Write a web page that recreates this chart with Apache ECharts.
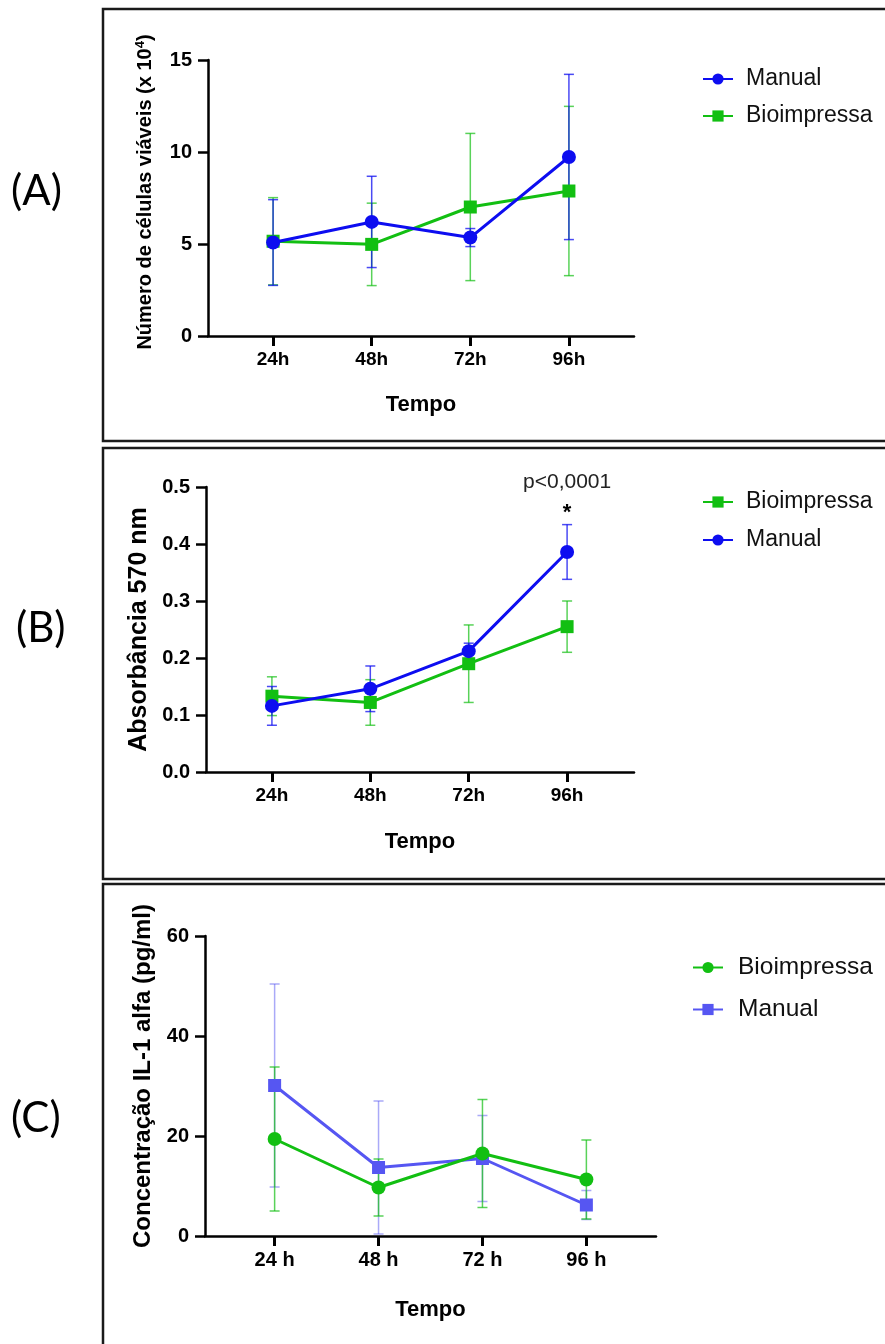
<!DOCTYPE html>
<html>
<head>
<meta charset="utf-8">
<script src="https://cdn.jsdelivr.net/npm/echarts@6/dist/echarts.min.js"></script>
<style>
html,body{margin:0;padding:0;background:#fff;}
#chart{width:885px;height:1344px;}
</style>
</head>
<body>
<div id="chart"></div>
<script>
// ---------- DATA ----------
const timesAB = ['24h', '48h', '72h', '96h'];
const timesC = ['24 h', '48 h', '72 h', '96 h'];

// Panel A: Número de células viáveis (x 10^4)
const manualA = [5.08, 6.2, 5.35, 9.73];
const manualAErr = [2.33, 2.48, 0.49, 4.49];
const bioA = [5.15, 4.98, 7.01, 7.88];
const bioAErr = [2.37, 2.24, 4.0, 4.6];

// Panel B: Absorbância 570 nm
const bioB = [0.133, 0.122, 0.190, 0.255];
const bioBErr = [0.034, 0.040, 0.068, 0.045];
const manualB = [0.116, 0.146, 0.212, 0.386];
const manualBErr = [0.034, 0.040, 0.014, 0.048];

// Panel C: Concentração IL-1 alfa (pg/ml)
const bioC = [19.4, 9.7, 16.5, 11.3];
const bioCErr = [14.4, 5.7, 10.8, 7.9];
const manualC = [30.1, 13.7, 15.5, 6.2];
const manualCErr = [20.3, 13.3, 8.6, 2.9];

const yTicksA = [0, 5, 10, 15];
const yTicksB = [0, 0.1, 0.2, 0.3, 0.4, 0.5];
const yTicksC = [0, 20, 40, 60];

// ---------- STYLE ----------
const BLUE = '#0d0df0';
const GREEN = '#12bf12';
const VIOLET = '#5656f2';
const FONT = 'Liberation Sans';

const chart = echarts.init(document.getElementById('chart'), null, {renderer: 'canvas'});

function pts(vals) { return vals.map((v, i) => [i, v]); }
function errData(vals, errs) { return vals.map((v, i) => [i, v - errs[i], v + errs[i]]); }

function errSeries(name, idx, vals, errs, color, opacity, width) {
  return {
    name: name, type: 'custom', xAxisIndex: idx, yAxisIndex: idx, z: 2,
    silent: true,
    data: errData(vals, errs),
    renderItem: function (params, api) {
      const x = api.value(0);
      const lo = api.coord([x, api.value(1)]);
      const hi = api.coord([x, api.value(2)]);
      const hw = 5;
      const st = {stroke: color, lineWidth: width, opacity: opacity};
      return {
        type: 'group',
        children: [
          {type: 'line', shape: {x1: lo[0], y1: lo[1], x2: hi[0], y2: hi[1]}, style: st},
          {type: 'line', shape: {x1: lo[0] - hw, y1: lo[1], x2: lo[0] + hw, y2: lo[1]}, style: st},
          {type: 'line', shape: {x1: hi[0] - hw, y1: hi[1], x2: hi[0] + hw, y2: hi[1]}, style: st}
        ]
      };
    }
  };
}

function lineSeries(name, idx, vals, color, symbol, size, z) {
  return {
    name: name, type: 'line', xAxisIndex: idx, yAxisIndex: idx, z: z || 3,
    data: pts(vals), symbol: symbol, symbolSize: size, showSymbol: true,
    itemStyle: {color: color}, lineStyle: {color: color, width: 3},
    emphasis: {disabled: true}, animation: false
  };
}

function xAxis(idx, labels, min, max, fs, nameGap) {
  return {
    type: 'value', gridIndex: idx, min: min, max: max,
    name: 'Tempo', nameLocation: 'middle', nameGap: nameGap,
    nameTextStyle: {fontFamily: FONT, fontWeight: 'bold', fontSize: 22, color: '#000'},
    axisLine: {show: true, onZero: false, lineStyle: {color: '#000', width: 2.5}},
    axisTick: {show: true, customValues: [0, 1, 2, 3], length: 10, lineStyle: {color: '#000', width: 3}},
    axisLabel: {show: true, customValues: [0, 1, 2, 3], formatter: v => labels[Math.round(v)],
      fontFamily: FONT, fontWeight: 'bold', fontSize: fs, color: '#000', margin: 14},
    splitLine: {show: false}
  };
}

function yAxis(idx, ticks, name, nameSize, nameGap, fmt, fs, shift) {
  return {
    type: 'value', gridIndex: idx, min: ticks[0], max: ticks[ticks.length - 1],
    interval: ticks[1] - ticks[0],
    name: name, nameLocation: 'middle', nameGap: nameGap, nameRotate: 90,
    nameTextStyle: {fontFamily: FONT, fontWeight: 'bold', fontSize: nameSize, color: '#000',
      padding: [0, 0, 0, shift],
      rich: {sup: {fontFamily: FONT, fontWeight: 'bold', fontSize: Math.round(nameSize * 0.65), verticalAlign: 'top', padding: [0, 0, 9, 0], color: '#000'}}},
    axisLine: {show: true, onZero: false, lineStyle: {color: '#000', width: 2.5}},
    axisTick: {show: true, length: 10, lineStyle: {color: '#000', width: 2.5}},
    axisLabel: {fontFamily: FONT, fontWeight: 'bold', fontSize: fs, color: '#000', margin: 16,
      formatter: fmt},
    splitLine: {show: false}
  };
}

function legend(top, left, names, gap, fs, pad) {
  return {
    orient: 'vertical', left: left, top: top, data: names,
    itemWidth: 30, itemHeight: 14, itemGap: gap,
    formatter: n => n.split(':')[1],
    textStyle: {fontFamily: FONT, fontSize: fs, color: '#111', padding: [0, 0, 0, pad], lineHeight: 24},
    selectedMode: false
  };
}

const option = {
  animation: false,
  backgroundColor: '#fff',
  grid: [
    {left: 208, width: 426, top: 60, height: 276},
    {left: 206, width: 428, top: 487, height: 285},
    {left: 205, width: 451, top: 936, height: 300}
  ],
  xAxis: [
    xAxis(0, timesAB, -0.66, 3.66, 19, 58),
    xAxis(1, timesAB, -0.67, 3.68, 19, 59),
    xAxis(2, timesC, -0.67, 3.67, 20, 63)
  ],
  yAxis: [
    yAxis(0, yTicksA, 'Número de células viáveis (x 10{sup|4})', 20, 52, v => String(v), 20, 12),
    yAxis(1, yTicksB, 'Absorbância 570 nm', 25, 54, v => v.toFixed(1), 20, 0),
    yAxis(2, yTicksC, 'Concentração IL-1 alfa (pg/ml)', 24, 48, v => String(v), 20, 20)
  ],
  legend: [
    legend(62, 697, ['A:Manual', 'A:Bioimpressa'], 13, 23, 8),
    legend(485, 697, ['B:Bioimpressa', 'B:Manual'], 14, 23, 8),
    legend(950, 687, ['C:Bioimpressa', 'C:Manual'], 17, 24.5, 10)
  ],
  series: [
    errSeries('eA1', 0, bioA, bioAErr, GREEN, 0.7, 1.5),
    errSeries('eA2', 0, manualA, manualAErr, BLUE, 0.75, 1.5),
    lineSeries('A:Bioimpressa', 0, bioA, GREEN, 'rect', 13, 3),
    lineSeries('A:Manual', 0, manualA, BLUE, 'circle', 14, 4),

    errSeries('eB1', 1, bioB, bioBErr, GREEN, 0.7, 1.5),
    errSeries('eB2', 1, manualB, manualBErr, BLUE, 0.75, 1.5),
    lineSeries('B:Bioimpressa', 1, bioB, GREEN, 'rect', 13, 3),
    lineSeries('B:Manual', 1, manualB, BLUE, 'circle', 14, 4),

    errSeries('eC2', 2, manualC, manualCErr, VIOLET, 0.5, 1.5),
    errSeries('eC1', 2, bioC, bioCErr, GREEN, 0.7, 1.5),
    lineSeries('C:Manual', 2, manualC, VIOLET, 'rect', 13, 3),
    lineSeries('C:Bioimpressa', 2, bioC, GREEN, 'circle', 14, 4)
  ]
};
chart.setOption(option);

// annotation above 96h in panel B
const pP = chart.convertToPixel({gridIndex: 1}, [3, 0.5]);
const pS = chart.convertToPixel({gridIndex: 1}, [3, 0.434]);

const frameStyle = {stroke: '#1a1a1a', lineWidth: 2.5, fill: null};
chart.setOption({
  graphic: [
    {type: 'polyline', shape: {points: [[890, 9], [103, 9], [103, 441], [890, 441]]}, style: frameStyle},
    {type: 'polyline', shape: {points: [[890, 448], [103, 448], [103, 879], [890, 879]]}, style: frameStyle},
    {type: 'polyline', shape: {points: [[890, 884], [103, 884], [103, 1350]]}, style: frameStyle},
    {type: 'text', left: 11, top: 170, style: {text: '(A)', font: '42px Lato', fill: '#000'}},
    {type: 'text', left: 16, top: 607, style: {text: '(B)', font: '42px Lato', fill: '#000'}},
    {type: 'text', left: 11, top: 1097, style: {text: '(C)', font: '42px Lato', fill: '#000'}},
    {type: 'text', x: pP[0], y: pP[1] - 5, style: {text: 'p<0,0001', font: '21px "Liberation Sans"', fill: '#222', textAlign: 'center', textVerticalAlign: 'middle'}},
    {type: 'text', x: pS[0], y: pS[1] - 12, style: {text: '*', font: 'bold 22px "Liberation Sans"', fill: '#000', textAlign: 'center', textVerticalAlign: 'middle'}}
  ]
});
</script>
</body>
</html>
